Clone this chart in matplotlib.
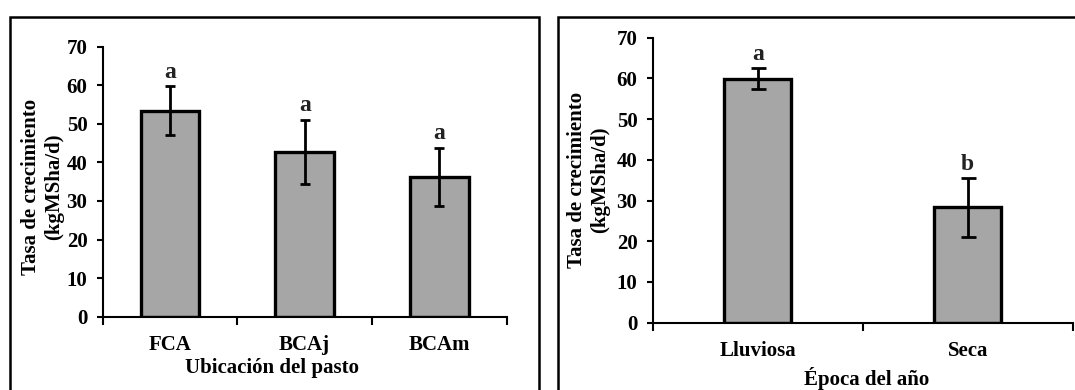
import numpy as np
import matplotlib
matplotlib.use('Agg')
import matplotlib.pyplot as plt
from matplotlib.patches import Rectangle

plt.rcParams['font.family'] = 'Liberation Serif'
plt.rcParams['font.weight'] = 'bold'
plt.rcParams['font.size'] = 15

# left panel: location of the pasture
ubicacion = ['FCA', 'BCAj', 'BCAm']
tasa_ubic = [53.4, 42.8, 36.2]
err_ubic = [6.3, 8.3, 7.6]
letras_ubic = ['a', 'a', 'a']

# right panel: season
epoca = ['Lluviosa', 'Seca']
tasa_epoca = [59.9, 28.3]
err_epoca = [2.6, 7.2]
letras_epoca = ['a', 'b']

W, H = 1075, 390
fig = plt.figure(figsize=(W / 100, H / 100), dpi=100)


def px_axes(x0, x1, ytop, ybot):
    return fig.add_axes([x0 / W, 1 - ybot / H, (x1 - x0) / W, (ybot - ytop) / H])


def draw(ax, cats, vals, errs, letras, width, capsize, pad_x):
    x = np.arange(len(cats))
    ax.bar(x, vals, width=width, color='#a6a6a6', edgecolor='black', linewidth=2.4,
           yerr=errs, error_kw=dict(ecolor='black', elinewidth=2.0, capsize=capsize, capthick=2.0))
    for xi, v, e, l in zip(x, vals, errs, letras):
        ax.annotate(l, (xi, v + e), xytext=(0, 6), textcoords='offset points',
                    ha='center', va='baseline', fontsize=17, color='#222222')
    ax.set_xlim(-0.5, len(cats) - 0.5)
    ax.set_ylim(0, 70)
    ax.set_yticks(range(0, 71, 10))
    ax.set_xticks(np.arange(len(cats) + 1) - 0.5)
    ax.set_xticklabels([])
    ax.set_xticks(x, minor=True)
    ax.set_xticklabels(cats, minor=True)
    ax.tick_params(axis='x', which='major', direction='out', length=6, width=1.5)
    ax.tick_params(axis='x', which='minor', length=0, pad=pad_x)
    ax.tick_params(axis='y', direction='out', length=4, width=1.5, pad=7)
    for s in ['top', 'right']:
        ax.spines[s].set_visible(False)
    for s in ['left', 'bottom']:
        ax.spines[s].set_linewidth(1.5)


ax1 = px_axes(102.7, 506.7, 46.7, 316.7)
draw(ax1, ubicacion, tasa_ubic, err_ubic, letras_ubic, 0.434, 3.5, 13)

ax2 = px_axes(652.7, 1072.7, 37.7, 322.7)
draw(ax2, epoca, tasa_epoca, err_epoca, letras_epoca, 0.321, 5.4, 13)

ylab = 'Tasa de crecimiento\n(kgMSha/d)'
fig.text(43 / W, 1 - 186.7 / H, ylab, rotation=90, ha='center', va='center',
         multialignment='center', linespacing=1.2)
fig.text(589 / W, 1 - 180 / H, ylab, rotation=90, ha='center', va='center',
         multialignment='center', linespacing=1.2)

fig.text(272 / W, 1 - 368 / H, 'Ubicación del pasto', ha='center', va='center')
fig.text(867 / W, 1 - 378 / H, 'Época del año', ha='center', va='center')

# frames around each panel
fig.add_artist(Rectangle((10 / W, -0.05), 529 / W, 1.05 - 16.5 / H, transform=fig.transFigure,
                         fill=False, edgecolor='black', linewidth=1.8, clip_on=False))
fig.add_artist(Rectangle((558 / W, -0.05), 0.6, 1.05 - 16.5 / H, transform=fig.transFigure,
                         fill=False, edgecolor='black', linewidth=1.8, clip_on=False))

fig.savefig('out.png', dpi=100)
